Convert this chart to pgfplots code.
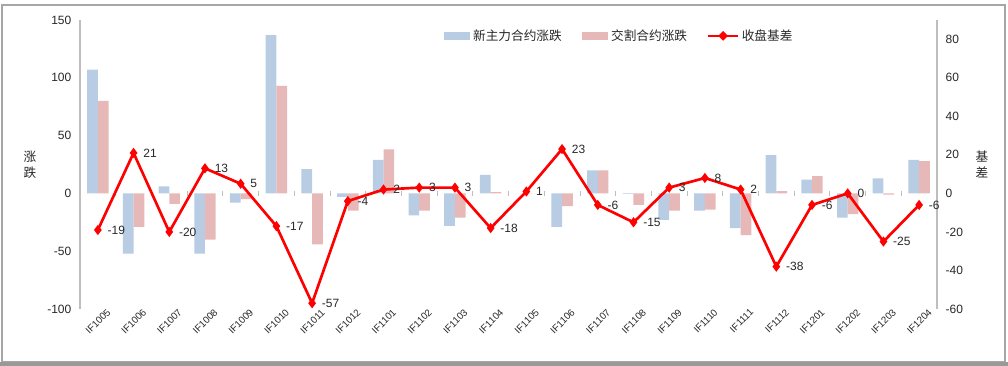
\documentclass[border=0pt]{standalone}
\usepackage{pgfplots}
\pgfplotsset{compat=1.18}
\usepackage{fontspec}
\setmainfont{Liberation Sans}
\newfontfamily\cjk{Noto Sans CJK SC}
\definecolor{barblue}{RGB}{184,204,228}
\definecolor{barpink}{RGB}{230,185,184}
\definecolor{axgray}{RGB}{190,190,190}
\definecolor{txt}{RGB}{40,40,40}
\pgfplotstableread{
x blue pink basis
0 107 80 -19
1 -52 -29 21
2 6 -9 -20
3 -52 -40 13
4 -8 -5 5
5 137 93 -17
6 21 -44 -57
7 -3 -15 -4
8 29 38 2
9 -19 -15 3
10 -28 -21 3
11 16 1 -18
12 0 0 1
13 -29 -11 23
14 20 20 -6
15 -0.5 -10 -15
16 -23 -15 3
17 -15 -14 8
18 -30 -36 2
19 33 2 -38
20 12 15 -6
21 -21 -18 0
22 13 -1 -25
23 29 28 -6
}\datatable
\begin{document}
\begin{tikzpicture}
\useasboundingbox (-60pt,-42.75pt) rectangle (696pt,231.75pt);
\fill[white] (-60pt,-42.75pt) rectangle (696pt,231.75pt);
\draw[gray!70, line width=1.2pt] (-58.5pt,-39.75pt) rectangle (693.75pt,228pt);
\draw[gray!80, line width=3pt] (-60pt,-41pt) -- (696pt,-41pt);
\begin{axis}[
  at={(0pt,0pt)}, anchor=south west,
  scale only axis, width=642.75pt, height=216.75pt,
  xmin=-0.5, xmax=23.5, ymin=-100, ymax=150,
  ytick={-100,-50,0,50,100,150},
  /pgf/number format/assume math mode=true,
  axis y line*=left, axis x line*=bottom,
  x axis line style={draw=none},
  y axis line style={draw=axgray, line width=0.8pt},
  xtick=data,
  xticklabels={IF1005,IF1006,IF1007,IF1008,IF1009,IF1010,IF1011,IF1012,IF1101,IF1102,IF1103,IF1104,IF1105,IF1106,IF1107,IF1108,IF1109,IF1110,IF1111,IF1112,IF1201,IF1202,IF1203,IF1204},
  x tick label style={rotate=45, anchor=north east, font=\fontsize{7.3}{8}\selectfont, text=txt, xshift=6pt, yshift=-3pt, inner sep=1pt},
  y tick label style={font=\fontsize{9}{10}\selectfont, text=txt, xshift=-3pt},
  major tick length=0pt,
  clip=false,
  legend style={draw=none, fill=none, at={(0.4195,0.945)}, anchor=west, legend columns=-1,
    font=\cjk\fontsize{9.5}{11}\selectfont, text=txt,
    /tikz/every even column/.append style={column sep=13pt}},
  legend cell align=left,
]
\pgfplotsinvokeforeach{0,...,22}{
  \draw[axgray, line width=0.6pt] (axis cs:#1.5,-2) -- (axis cs:#1.5,2);
}
\addplot[ybar, bar width=0.3, bar shift=-0.15, fill=barblue, draw=none,
  legend image code/.code={\fill[barblue] (0pt,-3pt) rectangle (20pt,3pt);}]
  table[x=x, y=blue] {\datatable};
\addlegendentry{新主力合约涨跌}
\addplot[ybar, bar width=0.3, bar shift=0.15, fill=barpink, draw=none,
  legend image code/.code={\fill[barpink] (0pt,-3pt) rectangle (20pt,3pt);}]
  table[x=x, y=pink] {\datatable};
\addlegendentry{交割合约涨跌}
\addlegendimage{red, line width=2pt,
  legend image code/.code={\draw[red, line width=2pt] (0pt,0pt) -- (22pt,0pt); \fill[red] (11pt,2.2pt) -- (13.2pt,0pt) -- (11pt,-2.2pt) -- (8.8pt,0pt) -- cycle;}}
\addlegendentry{收盘基差}
\node[font=\cjk\fontsize{9.5}{12}\selectfont, text=txt, align=center, inner sep=0pt] at (rel axis cs:-0.0583,0.5) {涨\\跌};
\node[font=\cjk\fontsize{9.5}{12}\selectfont, text=txt, align=center, inner sep=0pt] at (rel axis cs:1.0525,0.5) {基\\差};
\end{axis}
\begin{axis}[
  at={(0pt,0pt)}, anchor=south west,
  scale only axis, width=642.75pt, height=216.75pt,
  xmin=-0.5, xmax=23.5, ymin=-60, ymax=90,
  ytick={-60,-40,-20,0,20,40,60,80},
  /pgf/number format/assume math mode=true,
  axis y line*=right, axis x line=none,
  y axis line style={draw=axgray, line width=0.8pt},
  y tick label style={font=\fontsize{9}{10}\selectfont, text=txt, xshift=3pt},
  major tick length=0pt,
  clip=false,
]
\addplot[red, line width=2pt, mark=diamond*, mark size=2.2pt,
  nodes near coords,
  every node near coord/.style={anchor=west, xshift=3pt, font=\fontsize{9}{10}\selectfont, text=txt, /pgf/number format/.cd, fixed, precision=0, assume math mode=true, /tikz/.cd}]
  table[x=x, y=basis] {\datatable};
\end{axis}
\end{tikzpicture}
\end{document}
